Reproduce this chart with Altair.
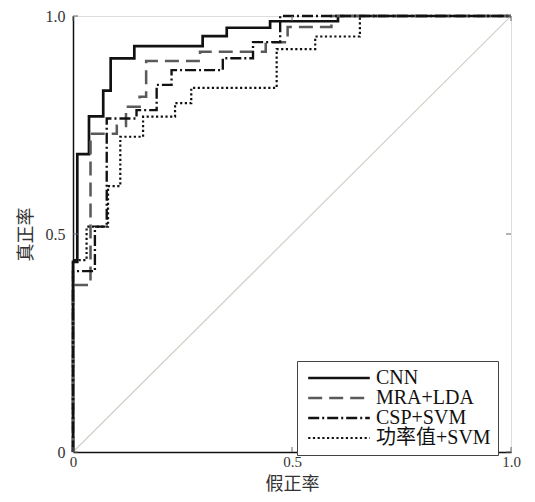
import altair as alt
import pandas as pd

series_names = ["CNN", "MRA+LDA", "CSP+SVM", "功率值+SVM"]

cnn_x = [0, 0, 0.0098, 0.0098, 0.0365, 0.0365, 0.069, 0.069, 0.086, 0.086, 0.140, 0.140, 0.296, 0.296, 0.351, 0.351, 0.450, 0.450, 0.605, 0.605, 1.0]
cnn_y = [0, 0.436, 0.436, 0.683, 0.683, 0.770, 0.770, 0.829, 0.829, 0.903, 0.903, 0.931, 0.931, 0.954, 0.954, 0.973, 0.973, 0.988, 0.988, 1.0, 1.0]

mra_x = [0, 0, 0.040, 0.040, 0.100, 0.100, 0.121, 0.121, 0.152, 0.152, 0.167, 0.167, 0.290, 0.290, 0.440, 0.440, 0.490, 0.490, 0.590, 0.590, 1.0]
mra_y = [0, 0.383, 0.383, 0.730, 0.730, 0.748, 0.748, 0.792, 0.792, 0.815, 0.815, 0.897, 0.897, 0.918, 0.918, 0.940, 0.940, 0.975, 0.975, 1.0, 1.0]

csp_x = [0, 0, 0.050, 0.050, 0.077, 0.077, 0.145, 0.145, 0.191, 0.191, 0.225, 0.225, 0.342, 0.342, 0.411, 0.411, 0.473, 0.473, 1.0]
csp_y = [0, 0.415, 0.415, 0.517, 0.517, 0.765, 0.765, 0.784, 0.784, 0.842, 0.842, 0.876, 0.876, 0.903, 0.903, 0.940, 0.940, 1.0, 1.0]

pow_x = [0, 0, 0.031, 0.031, 0.080, 0.080, 0.108, 0.108, 0.160, 0.160, 0.233, 0.233, 0.270, 0.270, 0.465, 0.465, 0.553, 0.553, 0.655, 0.655, 1.0]
pow_y = [0, 0.440, 0.440, 0.517, 0.517, 0.610, 0.610, 0.723, 0.723, 0.769, 0.769, 0.800, 0.800, 0.835, 0.835, 0.924, 0.924, 0.953, 0.953, 1.0, 1.0]

diag_x = [0, 1]
diag_y = [0, 1]
tick_values = [0, 0.5, 1.0]

rows = []
for name, xs, ys in zip(series_names, [cnn_x, mra_x, csp_x, pow_x], [cnn_y, mra_y, csp_y, pow_y]):
    for i, (a, b) in enumerate(zip(xs, ys)):
        rows.append({"series": name, "fpr": a, "tpr": b, "order": i})
df = pd.DataFrame(rows)
diag_df = pd.DataFrame({"fpr": diag_x, "tpr": diag_y})
tick_df = pd.DataFrame({"v": tick_values})

W, H = 438, 436
serif = "Liberation Serif, Noto Sans CJK SC"
cjk = "Noto Sans CJK SC"

xscale = alt.Scale(domain=[0, 1], nice=False, zero=False)
yscale = alt.Scale(domain=[0, 1], nice=False, zero=False)
label_expr = "datum.value == 0 ? '0' : format(datum.value, '.1f')"

xaxis = alt.Axis(values=tick_values, labelExpr=label_expr, ticks=False, grid=False,
                 title="假正率", titleFont=cjk, titleFontSize=18, titleFontWeight="normal",
                 titleColor="#333333", titlePadding=6, labelFont=serif, labelFontSize=15,
                 labelColor="#333333", labelPadding=2, domainColor="#111111", domainWidth=1.5,
                 labelFlush=False)
yaxis = alt.Axis(values=tick_values, labelExpr=label_expr, ticks=False, grid=False,
                 title="真正率", titleFont=cjk, titleFontSize=18, titleFontWeight="normal",
                 titleColor="#333333", titlePadding=10, labelFont=serif, labelFontSize=16,
                 labelColor="#333333", labelPadding=8, domainColor="#111111", domainWidth=1.5,
                 labelFlush=False)

diag = alt.Chart(diag_df).mark_line(color="#d2cdc6", strokeWidth=1.2).encode(
    x=alt.X("fpr:Q", scale=xscale, axis=xaxis),
    y=alt.Y("tpr:Q", scale=yscale, axis=yaxis),
)

legend = alt.Legend(
    title=None, orient="none", legendX=224, legendY=345,
    symbolType="M-4.4,0H4.4", symbolSize=196, symbolOffset=25, labelOffset=27,
    labelFont=serif, labelFontSize=20, labelColor="#111111", labelLimit=300,
    strokeColor="#444444", fillColor="white", padding=7, rowPadding=-1,
    symbolStrokeWidth=2.4,
)

curves = alt.Chart(df).mark_line(interpolate="linear").encode(
    x=alt.X("fpr:Q", scale=xscale),
    y=alt.Y("tpr:Q", scale=yscale),
    order="order:Q",
    color=alt.Color("series:N", sort=series_names,
                    scale=alt.Scale(domain=series_names, range=["#111111", "#5a5a5a", "#111111", "#111111"]),
                    legend=legend),
    strokeDash=alt.StrokeDash("series:N", sort=series_names,
                              scale=alt.Scale(domain=series_names, range=[[1, 0], [14, 7], [11, 3, 2, 3], [2.2, 2.5]]),
                              legend=legend),
    strokeWidth=alt.StrokeWidth("series:N", sort=series_names,
                                scale=alt.Scale(domain=series_names, range=[2.7, 2.2, 2.3, 2.6]),
                                legend=legend),
)

tick_color = "#666666"
tb = alt.Chart(tick_df).mark_rule(color=tick_color, strokeWidth=1).encode(
    x=alt.X("v:Q", scale=xscale), y=alt.value(H), y2=alt.value(H - 5))
tt = alt.Chart(tick_df).mark_rule(color=tick_color, strokeWidth=1).encode(
    x=alt.X("v:Q", scale=xscale), y=alt.value(0), y2=alt.value(5))
tl = alt.Chart(tick_df).mark_rule(color=tick_color, strokeWidth=1).encode(
    y=alt.Y("v:Q", scale=yscale), x=alt.value(0), x2=alt.value(5))
tr = alt.Chart(tick_df).mark_rule(color=tick_color, strokeWidth=1).encode(
    y=alt.Y("v:Q", scale=yscale), x=alt.value(W), x2=alt.value(W - 5))

chart = alt.layer(diag, curves, tb, tt, tl, tr).properties(
    width=W, height=H,
    autosize=alt.AutoSizeParams(type="none"),
    padding={"left": 65, "top": 8, "right": 16, "bottom": 45},
).configure_view(stroke="#808080", strokeWidth=1.6).configure(background="white")

chart.save("out.html", embed_options={"renderer": "svg", "actions": False})
